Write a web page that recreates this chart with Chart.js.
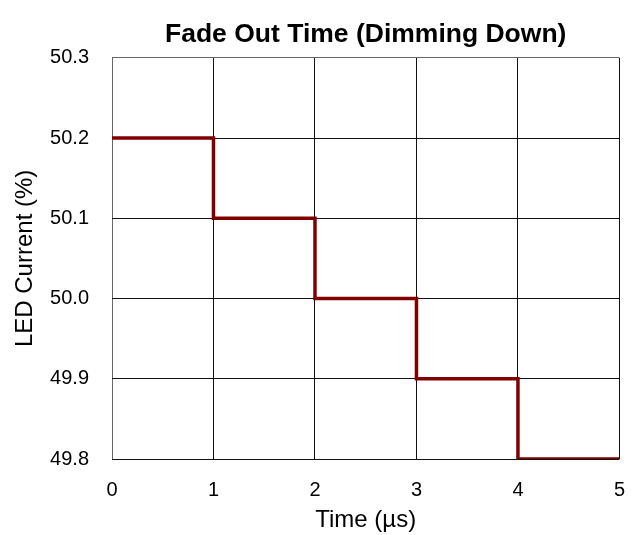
<!DOCTYPE html>
<html>
<head>
<meta charset="utf-8">
<script src="https://cdn.jsdelivr.net/npm/chart.js@4/dist/chart.umd.min.js"></script>
<style>
  html, body { margin: 0; padding: 0; background: #fff; }
</style>
</head>
<body>
<canvas id="fade" width="644" height="535"></canvas>
<script>
// data
const timeUs = [0, 1, 2, 3, 4, 5]
const ledCurrent = [50.2, 50.1, 50.0, 49.9, 49.8, 49.8]
const xTicks = [0, 1, 2, 3, 4, 5]
const yTicks = [49.8, 49.9, 50.0, 50.1, 50.2, 50.3]

const points = timeUs.map((t, i) => ({ x: t, y: ledCurrent[i] }))

Chart.defaults.font.family = "'Liberation Sans', Arial, sans-serif"
Chart.defaults.color = '#000'

// grid: outer left/top edges a bit grey, the rest black
function gridColor(ctx) {
    if (ctx.type !== 'tick') return '#000'
    return ctx.index === 0 ? '#666' : '#111'
}
function yGridColor(ctx) {
    if (ctx.type !== 'tick') return '#000'
    return ctx.index === ctx.scale.ticks.length - 1 ? '#666' : '#111'
}

const fade_ctx = document.getElementById('fade')
const fade = new Chart(fade_ctx, {
    type: 'line',
    data: {
        datasets: [{
            data: points,
            borderColor: '#800000',
            borderWidth: 3.5,
            pointRadius: 0,
            stepped: 'before',
            fill: false
        }]
    },
    options: {
        responsive: false,
        animation: false,
        devicePixelRatio: 1,
        layout: { padding: { left: 0, right: 18, top: 0, bottom: 0 } },
        plugins: {
            legend: { display: false },
            tooltip: { enabled: false },
            title: {
                display: true,
                text: 'Fade Out Time (Dimming Down)',
                fullSize: false,
                font: { size: 26.5, weight: 'bold' },
                color: '#000',
                padding: { top: 19, bottom: 7 }
            }
        },
        scales: {
            x: {
                type: 'linear',
                min: 0,
                max: 5,
                afterBuildTicks: s => { s.ticks = xTicks.map(v => ({ value: v })) },
                afterFit: s => { s.height = 76 },
                grid: { color: gridColor, lineWidth: 1, drawTicks: false },
                border: { display: false },
                ticks: { font: { size: 20 }, padding: 19, callback: v => String(v) },
                title: {
                    display: true,
                    text: 'Time (µs)',
                    font: { size: 24 },
                    padding: { top: 0, bottom: 0 }
                }
            },
            y: {
                type: 'linear',
                min: 49.8,
                max: 50.3,
                afterBuildTicks: s => { s.ticks = yTicks.map(v => ({ value: v })) },
                afterFit: s => { s.width = 112 },
                grid: { color: yGridColor, lineWidth: 1, drawTicks: false },
                border: { display: false },
                ticks: { font: { size: 20 }, padding: 23, callback: v => v.toFixed(1) },
                title: {
                    display: true,
                    text: 'LED Current (%)',
                    font: { size: 24 },
                    padding: { top: 11, bottom: 0 }
                }
            }
        }
    }
})
</script>
</body>
</html>
